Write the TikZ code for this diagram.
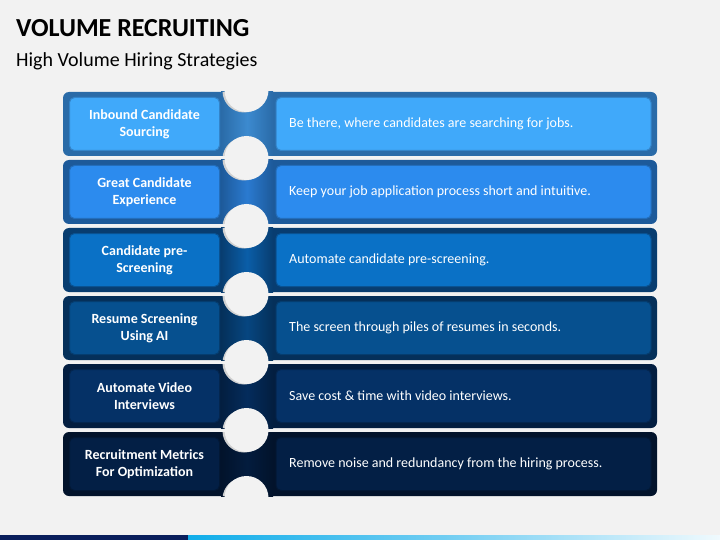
\documentclass[tikz,border=0pt]{standalone}
\usepackage{fontspec}
\setmainfont{Carlito}
\definecolor{bg}{HTML}{F2F2F2}
\definecolor{iA}{HTML}{40A9FA}\definecolor{oA}{HTML}{2A6BA8}\definecolor{mA}{HTML}{3C8ACF}
\definecolor{iB}{HTML}{2C8BEE}\definecolor{oB}{HTML}{1D5A9A}\definecolor{mB}{HTML}{2A7AD0}
\definecolor{iC}{HTML}{0A71C6}\definecolor{oC}{HTML}{083D70}\definecolor{mC}{HTML}{0A5EA8}
\definecolor{iD}{HTML}{06508F}\definecolor{oD}{HTML}{05305A}\definecolor{mD}{HTML}{064680}
\definecolor{iE}{HTML}{053166}\definecolor{oE}{HTML}{031E40}\definecolor{mE}{HTML}{042C5C}
\definecolor{iF}{HTML}{031F45}\definecolor{oF}{HTML}{02132B}\definecolor{mF}{HTML}{031C3E}
\definecolor{navy}{HTML}{0A1F5C}
\definecolor{b1}{HTML}{0A5FB5}\definecolor{b2}{HTML}{00A8E8}\definecolor{b3}{HTML}{70CDF2}
\definecolor{b4}{HTML}{FFFFFF}\definecolor{b5}{HTML}{3FA0E0}
\pgfdeclarehorizontalshading{barshade}{100bp}{color(0bp)=(b1); color(21bp)=(b2); color(49bp)=(b3); color(78bp)=(b4); color(96bp)=(b5); color(100bp)=(b5)}
\tikzset{
  outerframe/.style={rounded corners=6pt},
  leftbox/.style={rounded corners=5pt, minimum width=150pt, minimum height=53pt, inner sep=0pt,
     align=center, text=white, font=\bfseries\fontsize{14}{17}\selectfont},
  rightbox/.style={rounded corners=5pt, minimum width=375pt, minimum height=53pt, inner sep=0pt},
  righttext/.style={anchor=west, text=white, inner sep=0pt, font=\fontsize{14}{17}\selectfont},
  cutout/.style={fill=bg},
  cutshadow/.style={fill=black!18},
}
\begin{document}
\begin{tikzpicture}[x=1pt,y=-1pt]
\fill[bg] (0,0) rectangle (720,540);
\useasboundingbox (0,0) rectangle (720,540);
\node[anchor=base west, inner sep=0pt, font=\bfseries\fontsize{26}{30}\selectfont] (title) at (16,37) {VOLUME RECRUITING};
\node[anchor=base west, inner sep=0pt, font=\fontsize{20}{24}\selectfont] (subtitle) at (16,67) {High Volume Hiring Strategies};
\foreach \i/\ic/\oc/\mc/\lt/\rt in {
  1/iA/oA/mA/{Inbound Candidate\\Sourcing}/{Be there, where candidates are searching for jobs.},
  2/iB/oB/mB/{Great Candidate\\Experience}/{Keep your job application process short and intuitive.},
  3/iC/oC/mC/{Candidate pre-\\Screening}/{Automate candidate pre-screening.},
  4/iD/oD/mD/{Resume Screening\\Using AI}/{The screen through piles of resumes in seconds.},
  5/iE/oE/mE/{Automate Video\\Interviews}/{Save cost \& time with video interviews.},
  6/iF/oF/mF/{Recruitment Metrics\\For Optimization}/{Remove noise and redundancy from the hiring process.}}{
  \pgfmathsetmacro\t{92+68*(\i-1)}
  \fill[\oc, outerframe] (63,\t) rectangle (657,\t+64);
  \shade[left color=\oc, right color=\oc, middle color=\mc] (221,\t) rectangle (273,\t+64);
  \node[leftbox, fill=\ic, draw=\oc!60!\ic, line width=1pt] (L\i) at (144.5,\t+32) {\lt};
  \node[rightbox, fill=\ic, draw=\oc!60!\ic, line width=1pt] (R\i) at (463.5,\t+32) {};
  \node[righttext] (T\i) at (289,\t+32) {\rt};
}
\begin{scope}
  \clip foreach \j in {0,...,5} {(221,92+68*\j) rectangle (273,156+68*\j)};
  \foreach \cy in {90,158,226,294,362,430,498}{
    \fill[cutshadow] (244,\cy+1) circle (21.5);
  }
\end{scope}
\foreach \cy [count=\k] in {90,158,226,294,362,430,498}{
  \fill[cutout] (246.5,\cy) circle (22);
}
\fill[navy] (0,535) rectangle (188,540);
\shade[shading=barshade] (188,535) rectangle (720,540);
\end{tikzpicture}
\end{document}
